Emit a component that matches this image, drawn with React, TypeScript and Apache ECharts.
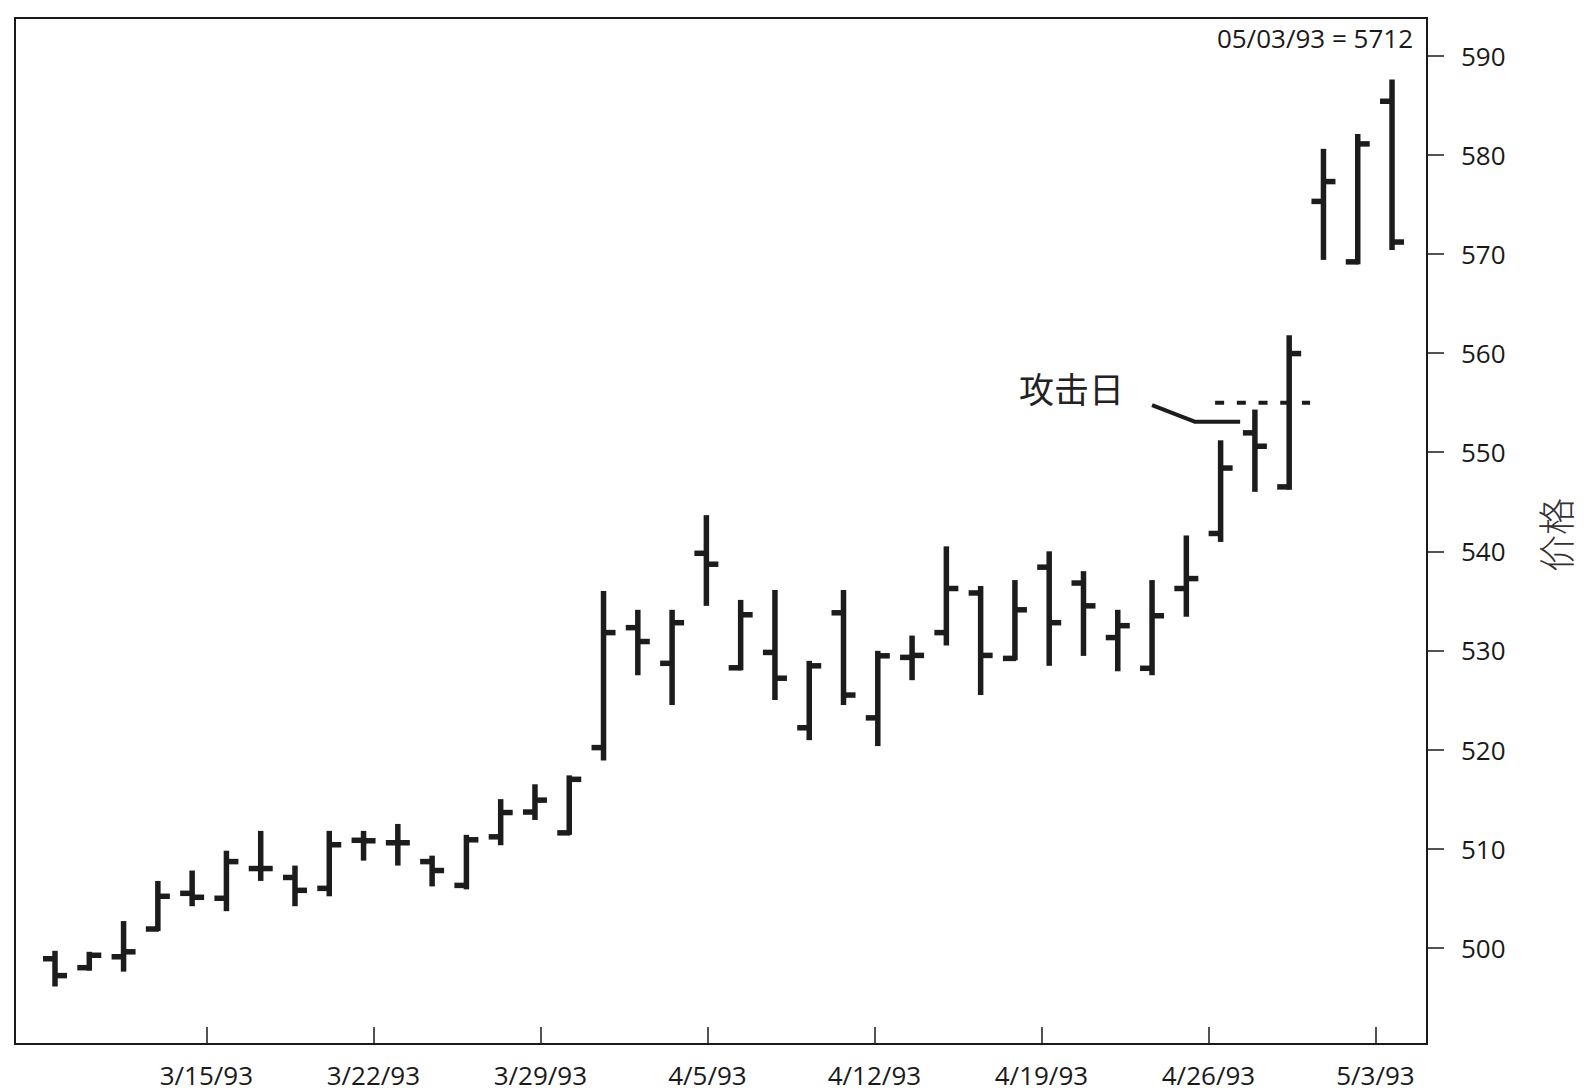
import React, { useEffect, useRef } from "react";
import * as echarts from "echarts";

// Trading days (one OHLC bar each)
const dates = [
  "3/9/93", "3/10/93", "3/11/93", "3/12/93",
  "3/15/93", "3/16/93", "3/17/93", "3/18/93", "3/19/93",
  "3/22/93", "3/23/93", "3/24/93", "3/25/93", "3/26/93",
  "3/29/93", "3/30/93", "3/31/93", "4/1/93", "4/2/93",
  "4/5/93", "4/6/93", "4/7/93", "4/8/93", "4/9/93",
  "4/12/93", "4/13/93", "4/14/93", "4/15/93", "4/16/93",
  "4/19/93", "4/20/93", "4/21/93", "4/22/93", "4/23/93",
  "4/26/93", "4/27/93", "4/28/93", "4/29/93", "4/30/93",
  "5/3/93",
];
const openVals = [
  498.9, 498.0, 499.1, 501.9, 505.5, 505.0, 508.0, 507.1, 506.0, 510.85,
  510.6, 508.7, 506.3, 511.2, 513.7, 511.6, 520.2, 532.3, 528.7, 539.8,
  528.25, 529.8, 522.2, 533.8, 523.2, 529.3, 531.8, 535.8, 529.2, 538.4,
  536.8, 531.3, 528.2, 536.25, 541.8, 551.95, 546.5, 575.3, 569.2, 585.4,
];
const highVals = [
  499.7, 499.6, 502.7, 506.75, 507.8, 509.8, 511.8, 508.3, 511.8, 511.8,
  512.5, 509.3, 511.4, 515.0, 516.5, 517.4, 536.0, 534.1, 534.1, 543.65,
  535.1, 536.1, 528.95, 536.1, 529.96, 531.5, 540.5, 536.5, 537.1, 540.0,
  538.0, 534.1, 537.1, 541.6, 551.2, 554.3, 561.8, 580.6, 582.1, 587.6,
];
const lowVals = [
  496.1, 497.7, 497.6, 501.7, 504.2, 503.7, 506.75, 504.2, 505.2, 508.8,
  508.3, 506.2, 505.9, 510.35, 512.9, 511.4, 518.9, 527.5, 524.5, 534.5,
  528.0, 525.0, 520.95, 524.5, 520.35, 527.0, 530.5, 525.5, 529.0, 528.45,
  529.45, 527.9, 527.5, 533.4, 540.95, 546.0, 546.2, 569.4, 568.95, 570.4,
];
const closeVals = [
  497.2, 499.25, 499.6, 505.2, 505.1, 508.7, 508.0, 505.8, 510.4, 510.8,
  510.6, 507.8, 510.9, 513.65, 514.9, 517.0, 531.8, 530.9, 532.8, 538.7,
  533.6, 527.2, 528.45, 525.5, 529.46, 529.5, 536.25, 529.5, 534.1, 532.8,
  534.5, 532.5, 533.5, 537.25, 548.4, 550.6, 559.95, 577.3, 581.1, 571.2,
];

// Axis tick labels
const weekTicks = ["3/15/93", "3/22/93", "3/29/93", "4/5/93", "4/12/93", "4/19/93", "4/26/93", "5/3/93"];
const priceTicks = [500, 510, 520, 530, 540, 550, 560, 570, 580, 590];

// Annotations
const headerText = "05/03/93 = 5712";
const axisName = "价格";
const attackLabel = "攻击日";
const attackLeader = [[32.0, 554.74], [33.26, 553.06], [34.57, 553.06]];
const attackLevel = 555;
const attackLevelSpan = [33.84, 36.61];

const DAY = 86400000;
// calendar day number of a "M/D/YY" date
const dayNum = (s: string) => {
  const [m, d, y] = s.split("/").map(Number);
  return Math.round(Date.UTC(1900 + y, m - 1, d) / DAY);
};
const tickDays = weekTicks.map(dayNum);

const FONT = "'Open Sans', 'Noto Sans', sans-serif";
const CJK = "'Noto Sans CJK SC', sans-serif";

export default function App() {
  const ref = useRef<HTMLDivElement>(null);
  useEffect(() => {
    if (!ref.current) return;
    const chart = echarts.init(ref.current, undefined, { renderer: "svg" });
    const barData = dates.map((d, i) => [i, openVals[i], closeVals[i], lowVals[i], highVals[i]]);
    const barStyle = { stroke: "#1c1c1c", lineWidth: 5.5, lineCap: "butt" };
    chart.setOption({
      animation: false,
      backgroundColor: "#fff",
      grid: {
        left: 15,
        right: 157,
        top: 18,
        bottom: 48,
        show: true,
        borderColor: "#1a1a1a",
        borderWidth: 2,
        backgroundColor: "transparent",
      },
      xAxis: [
        {
          type: "value",
          min: -1.167,
          max: 40.02,
          show: false,
        },
        {
          type: "value",
          position: "bottom",
          min: tickDays[0] - 8.02,
          max: tickDays[tickDays.length - 1] + 2.16,
          axisLine: { show: true, onZero: false, lineStyle: { color: "#1a1a1a", width: 2 } },
          axisTick: {
            show: true,
            inside: true,
            length: 17,
            customValues: tickDays,
            lineStyle: { color: "#1a1a1a", width: 1.5 },
          },
          axisLabel: {
            show: true,
            customValues: tickDays,
            margin: 18,
            fontSize: 26,
            fontFamily: FONT,
            color: "#1a1a1a",
            formatter: (val: number) => {
              const i = tickDays.findIndex((t) => Math.abs(t - val) < 0.5);
              return i >= 0 ? weekTicks[i] : "";
            },
          },
          splitLine: { show: false },
        },
      ],
      yAxis: {
        type: "value",
        position: "right",
        min: 490.3,
        max: 593.8,
        axisLine: { show: true, onZero: false, lineStyle: { color: "#1a1a1a", width: 2 } },
        axisTick: {
          show: true,
          length: 17,
          customValues: priceTicks,
          lineStyle: { color: "#1a1a1a", width: 1.5 },
        },
        axisLabel: {
          show: true,
          customValues: priceTicks,
          margin: 34,
          fontSize: 26,
          fontFamily: FONT,
          color: "#1a1a1a",
        },
        splitLine: { show: false },
      },
      series: [
        {
          type: "custom",
          name: "OHLC",
          xAxisIndex: 0,
          yAxisIndex: 0,
          data: barData,
          encode: { x: 0, y: [1, 2, 3, 4] },
          renderItem: (params: any, api: any) => {
            const idx = api.value(0);
            const o = api.coord([idx, api.value(1)]);
            const c = api.coord([idx, api.value(2)]);
            const l = api.coord([idx, api.value(3)]);
            const h = api.coord([idx, api.value(4)]);
            const x = o[0];
            return {
              type: "group",
              children: [
                { type: "line", shape: { x1: x, y1: h[1], x2: x, y2: l[1] }, style: barStyle },
                { type: "line", shape: { x1: x - 12, y1: o[1], x2: x + 1, y2: o[1] }, style: barStyle },
                { type: "line", shape: { x1: x - 1, y1: c[1], x2: x + 12, y2: c[1] }, style: barStyle },
              ],
            };
          },
        },
        {
          type: "line",
          name: "leader",
          xAxisIndex: 0,
          yAxisIndex: 0,
          data: attackLeader,
          symbol: "none",
          lineStyle: { color: "#1c1c1c", width: 4 },
          silent: true,
        },
        {
          type: "line",
          name: "level",
          xAxisIndex: 0,
          yAxisIndex: 0,
          data: attackLevelSpan.map((x) => [x, attackLevel]),
          symbol: "none",
          lineStyle: { color: "#1c1c1c", width: 4, type: [9, 12.7] },
          silent: true,
        },
      ],
    });
    const p = chart.convertToPixel({ seriesIndex: 0 }, attackLeader[0]) as number[];
    chart.setOption({
      graphic: [
        {
          type: "text",
          x: 1413,
          y: 38,
          style: {
            text: headerText,
            font: `26px ${FONT}`,
            fill: "#1a1a1a",
            textAlign: "right",
            textVerticalAlign: "middle",
          },
        },
        {
          type: "text",
          x: 1555,
          y: 535,
          rotation: Math.PI / 2,
          style: {
            text: axisName,
            font: `300 37px ${CJK}`,
            fill: "#333",
            textAlign: "center",
            textVerticalAlign: "middle",
          },
        },
        {
          type: "text",
          x: p[0] - 28,
          y: p[1] - 18,
          style: {
            text: attackLabel,
            font: `35px ${CJK}`,
            fill: "#222",
            textAlign: "right",
            textVerticalAlign: "middle",
          },
        },
      ],
    });
    return () => chart.dispose();
  }, []);
  return (
    <div
      ref={ref}
      style={{ position: "absolute", left: 0, top: 0, width: 1584, height: 1092, background: "#fff" }}
    />
  );
}
